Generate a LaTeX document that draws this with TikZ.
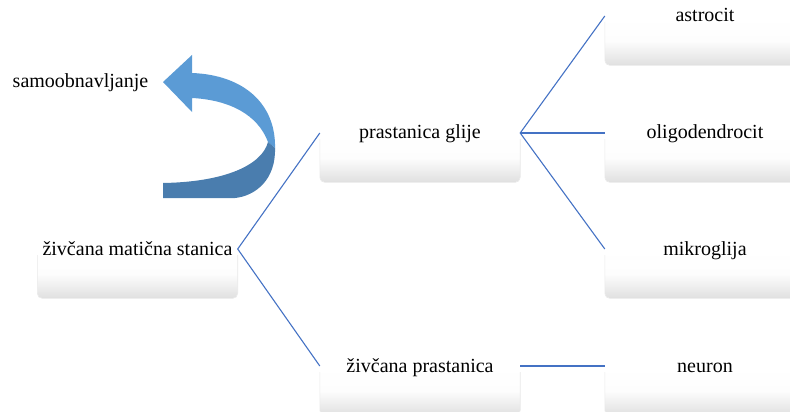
\documentclass[tikz,border=0pt]{standalone}
\usepackage{fontspec}
\setmainfont{Liberation Serif}
\definecolor{linkblue}{HTML}{4472C4}
\definecolor{arrowlight}{HTML}{5B9BD5}
\definecolor{arrowdark}{HTML}{4A7DAE}
\definecolor{boxgray}{HTML}{E0E0E0}
\begin{document}
\begin{tikzpicture}[x=1pt,y=1pt,
  boxnode/.style={rectangle, rounded corners=5pt, minimum width=200pt, minimum height=49pt,
    anchor=north, top color=white, bottom color=boxgray, middle color=white!94!boxgray,
    draw=none, inner sep=0pt},
  txt/.style={font=\fontsize{20}{22}\selectfont, anchor=base, inner sep=0pt},
  link/.style={draw=linkblue, line width=1.1pt}]
\useasboundingbox (0,0) rectangle (790,-412);
\clip (0,0) rectangle (790,-412);
% boxes
\node[boxnode] (z)  at (137.5,-249) {};
\node[boxnode] (pg) at (420,-133) {};
\node[boxnode] (zp) at (420,-366) {};
\node[boxnode] (as) at (705,-16) {};
\node[boxnode] (ol) at (705,-133) {};
\node[boxnode] (mi) at (705,-249) {};
\node[boxnode] (ne) at (705,-366) {};
% box edges (sides and bottom only)
\foreach \b in {z,pg,zp,as,ol,mi,ne}{
  \draw[black!9, line width=0.6pt, rounded corners=5pt]
    ([yshift=-6pt]\b.north west) -- (\b.south west) -- (\b.south east) -- ([yshift=-6pt]\b.north east);
}
% texts
\node[txt] (zt)  at (137.5,-255) {živčana matična stanica};
\node[txt] (pgt) at (420,-138) {prastanica glije};
\node[txt] (zpt) at (420,-372) {živčana prastanica};
\node[txt] (ast) at (705,-22) {astrocit};
\node[txt] (olt) at (705,-138) {oligodendrocit};
\node[txt] (mit) at (705,-255) {mikroglija};
\node[txt] (net) at (705,-372) {neuron};
\node[txt] (sa)  at (80.5,-88) {samoobnavljanje};
% connectors
\draw[link] (pg.north west) -- (z.north east) -- (zp.north west);
\draw[link] (as.north west) -- (pg.north east) -- (mi.north west);
\draw[link] (pg.north east) -- (ol.north west);
\draw[link] (zp.north east) -- (ne.north west);
% curved arrow
\fill[arrowlight] (163,-82) -- (192,-55) -- (192,-73)
  .. controls (245,-75) and (276,-105) .. (275,-148)
  -- (268,-142) .. controls (258,-115) and (230,-100) .. (192,-98)
  -- (192,-112) -- cycle;
\fill[arrowdark] (275,-148) .. controls (276,-180) and (255,-196) .. (235,-198)
  -- (163,-198) -- (163,-183)
  .. controls (225,-182) and (262,-165) .. (268,-142) -- cycle;
\end{tikzpicture}
\end{document}
